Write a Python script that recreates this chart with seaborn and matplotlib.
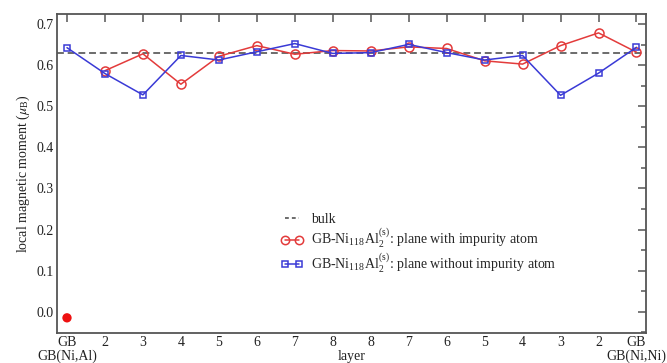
import numpy as np
import pandas as pd
import matplotlib
matplotlib.use("Agg")
import matplotlib.pyplot as plt
import matplotlib.transforms as mtransforms
from matplotlib.lines import Line2D
from matplotlib.ticker import MultipleLocator
import seaborn as sns

# Layer labels along the slab, from GB(Ni,Al) to GB(Ni,Ni)
layer_labels = ["GB", "2", "3", "4", "5", "6", "7", "8", "8", "7", "6", "5", "4", "3", "2", "GB"]
positions = list(range(len(layer_labels)))

# Local magnetic moments (mu_B)
with_impurity = [np.nan, 0.587, 0.628, 0.554, 0.622, 0.648, 0.627, 0.636,
                 0.635, 0.645, 0.641, 0.611, 0.603, 0.648, 0.679, 0.632]
without_impurity = [0.643, 0.580, 0.528, 0.624, 0.613, 0.633, 0.653, 0.629,
                    0.631, 0.651, 0.631, 0.613, 0.624, 0.527, 0.581, 0.644]
impurity_site_x = [0]
impurity_site_moment = [-0.015]
bulk_moment = 0.631

sns.set_theme(style="white")
plt.rcParams["font.family"] = ["Liberation Serif", "DejaVu Serif"]
plt.rcParams["mathtext.fontset"] = "stix"

red = "#e33b3b"
blue = "#3a3ad6"
frame = "#555555"
ink = "#222222"
fs = 10

fig = plt.figure(figsize=(6.67, 3.63), dpi=100)
ax = fig.add_axes([0.0862, 0.0826, 0.8823, 0.8788])

df = pd.DataFrame({"layer": positions,
                   "with": with_impurity,
                   "without": without_impurity})

ax.axhline(bulk_moment, color="#444444", lw=1.1, ls=(0, (4.5, 2.5)), zorder=1)

sns.lineplot(data=df.dropna(subset=["with"]), x="layer", y="with", ax=ax,
             color=red, lw=1.1, marker="o", markersize=6.5,
             markerfacecolor="none", markeredgecolor=red, markeredgewidth=1.1,
             estimator=None, sort=False, zorder=3)
sns.lineplot(data=df, x="layer", y="without", ax=ax,
             color=blue, lw=1.1, marker="s", markersize=5,
             markerfacecolor="none", markeredgecolor=blue, markeredgewidth=1.1,
             estimator=None, sort=False, zorder=4)
sns.scatterplot(x=impurity_site_x, y=impurity_site_moment, ax=ax,
                color="#ee1111", s=45, edgecolor="none", zorder=5)

ax.set_xlim(-0.25, 15.25)
ax.set_ylim(-0.052, 0.725)
ax.set_xticks(positions)
ax.set_xticklabels(layer_labels)
ax.yaxis.set_minor_locator(MultipleLocator(0.05))
yt = np.round(np.arange(0.0, 0.75, 0.1), 1)
ax.set_yticks(yt)
ax.set_yticklabels([f"{v:.1f}" for v in yt])

ax.tick_params(axis="both", which="both", direction="in", colors=frame,
               labelcolor=ink, labelsize=fs)
ax.tick_params(axis="x", which="major", length=6, width=1.1, top=True, pad=2)
ax.tick_params(axis="y", which="major", length=6, width=1.1, right=True, pad=3)
ax.tick_params(axis="y", which="minor", length=3.5, width=1.1, right=True)
for sp in ax.spines.values():
    sp.set_color(frame)
    sp.set_linewidth(1.3)

ax.set_xlabel("layer", fontsize=fs, color=ink, va="top")
ax.xaxis.set_label_coords(0.5, -0.052)
ax.set_ylabel(r"local magnetic moment ($\mu_{\mathregular{B}}$)", fontsize=fs,
              color=ink, labelpad=3)

trans = mtransforms.blended_transform_factory(ax.transData, ax.transAxes)
ax.text(0, -0.052, "GB(Ni,Al)", transform=trans, ha="center", va="top",
        fontsize=fs, color=ink)
ax.text(15, -0.052, "GB(Ni,Ni)", transform=trans, ha="center", va="top",
        fontsize=fs, color=ink)

handles = [
    Line2D([], [], color="#444444", lw=1.1, ls=(0, (2.5, 2))),
    Line2D([], [], color=red, lw=1.1, marker="o", markersize=6,
           markerfacecolor="none", markeredgewidth=1.1),
    Line2D([], [], color=blue, lw=1.1, marker="s", markersize=5,
           markerfacecolor="none", markeredgewidth=1.1),
]
labels = [
    "bulk",
    r"GB-Ni$_{\mathregular{118}}$Al$_{\mathregular{2}}^{\mathregular{(s)}}$: plane with impurity atom",
    r"GB-Ni$_{\mathregular{118}}$Al$_{\mathregular{2}}^{\mathregular{(s)}}$: plane without impurity atom",
]
ax.legend(handles, labels, loc="upper left", bbox_to_anchor=(0.37, 0.395),
          frameon=False, fontsize=fs, handlelength=1.6, handletextpad=0.6,
          labelspacing=0.1, numpoints=2, borderaxespad=0)

fig.savefig("out.png", dpi=100)
